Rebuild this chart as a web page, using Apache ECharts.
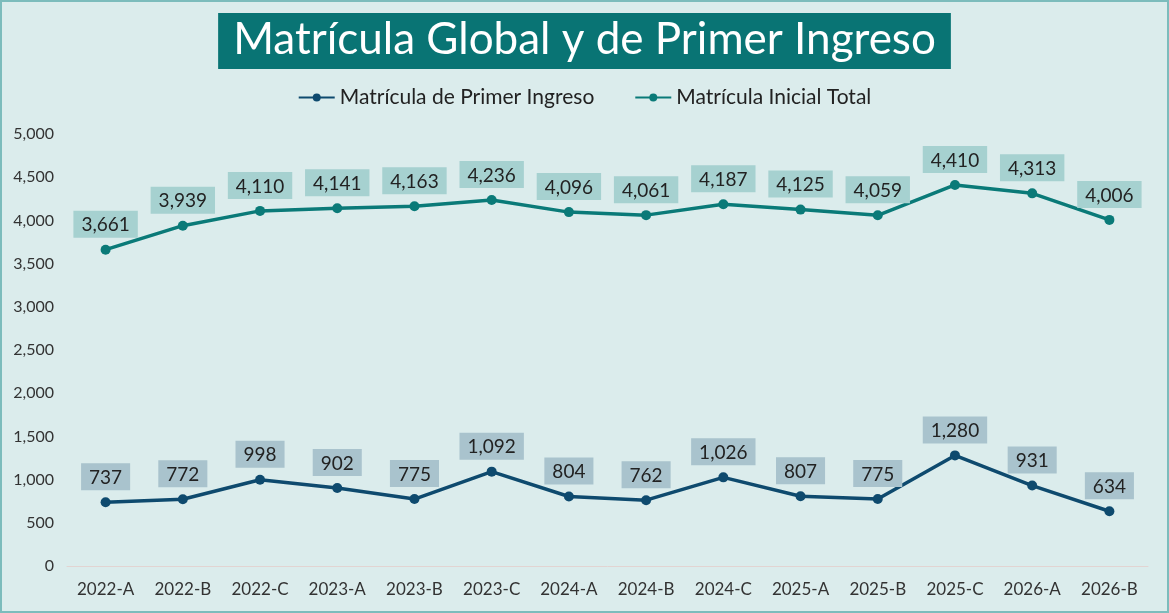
<!DOCTYPE html>
<html>
<head>
<meta charset="utf-8">
<script src="https://cdn.jsdelivr.net/npm/echarts@6/dist/echarts.min.js"></script>
<style>
  html, body { margin: 0; padding: 0; background: #dbecec; }
  #main { width: 1169px; height: 613px; box-sizing: border-box; border: 2px solid #7cbcbc; }
</style>
</head>
<body>
<div id="main"></div>
<script>
var categories = ['2022-A', '2022-B', '2022-C', '2023-A', '2023-B', '2023-C', '2024-A', '2024-B', '2024-C', '2025-A', '2025-B', '2025-C', '2026-A', '2026-B'];
var primerIngreso = [737, 772, 998, 902, 775, 1092, 804, 762, 1026, 807, 775, 1280, 931, 634];
var inicialTotal = [3661, 3939, 4110, 4141, 4163, 4236, 4096, 4061, 4187, 4125, 4059, 4410, 4313, 4006];

var font = 'Lato';
var chart = echarts.init(document.getElementById('main'));

function fmt(v) { return v.toLocaleString('en-US'); }

chart.setOption({
  backgroundColor: '#dbecec',
  textStyle: { fontFamily: font },
  title: {
    text: 'Matrícula Global y de Primer Ingreso',
    left: 'center',
    top: 11,
    backgroundColor: '#097474',
    padding: [5, 15, 7, 15],
    textStyle: { color: '#ffffff', fontSize: 44, fontWeight: 'normal', fontFamily: font, letterSpacing: 1 }
  },
  legend: {
    top: 80,
    left: 'center',
    itemGap: 40,
    itemWidth: 36,
    itemHeight: 10,
    textStyle: { fontSize: 21, color: '#222', fontFamily: font },
    data: ['Matrícula de Primer Ingreso', 'Matrícula Inicial Total']
  },
  grid: { left: 65, right: 19, top: 132, bottom: 45, containLabel: false },
  xAxis: {
    type: 'category',
    data: categories,
    axisTick: { show: false },
    axisLine: { lineStyle: { color: '#e2d4d2', width: 1 } },
    axisLabel: { fontSize: 17, color: '#333', margin: 15, fontFamily: font }
  },
  yAxis: {
    type: 'value',
    min: 0,
    max: 5000,
    interval: 500,
    splitLine: { show: false },
    axisLabel: {
      fontSize: 16, color: '#333', margin: 13, fontFamily: font,
      formatter: function (v) { return fmt(v); }
    }
  },
  series: [
    {
      name: 'Matrícula de Primer Ingreso',
      type: 'line',
      data: primerIngreso,
      color: '#0e4a6e',
      symbol: 'circle',
      symbolSize: 10,
      lineStyle: { width: 3.5 },
      label: {
        show: true,
        position: 'top',
        distance: 7,
        formatter: function (p) { return fmt(p.value); },
        backgroundColor: '#a9c3cd',
        padding: [5, 8, 3, 8],
        fontSize: 19,
        color: '#222',
        fontFamily: font
      }
    },
    {
      name: 'Matrícula Inicial Total',
      type: 'line',
      data: inicialTotal,
      color: '#0a7a78',
      symbol: 'circle',
      symbolSize: 10,
      lineStyle: { width: 3.5 },
      label: {
        show: true,
        position: 'top',
        distance: 7,
        formatter: function (p) { return fmt(p.value); },
        backgroundColor: '#a6d1d0',
        padding: [5, 8, 3, 8],
        fontSize: 19,
        color: '#222',
        fontFamily: font
      }
    }
  ]
});
</script>
</body>
</html>
